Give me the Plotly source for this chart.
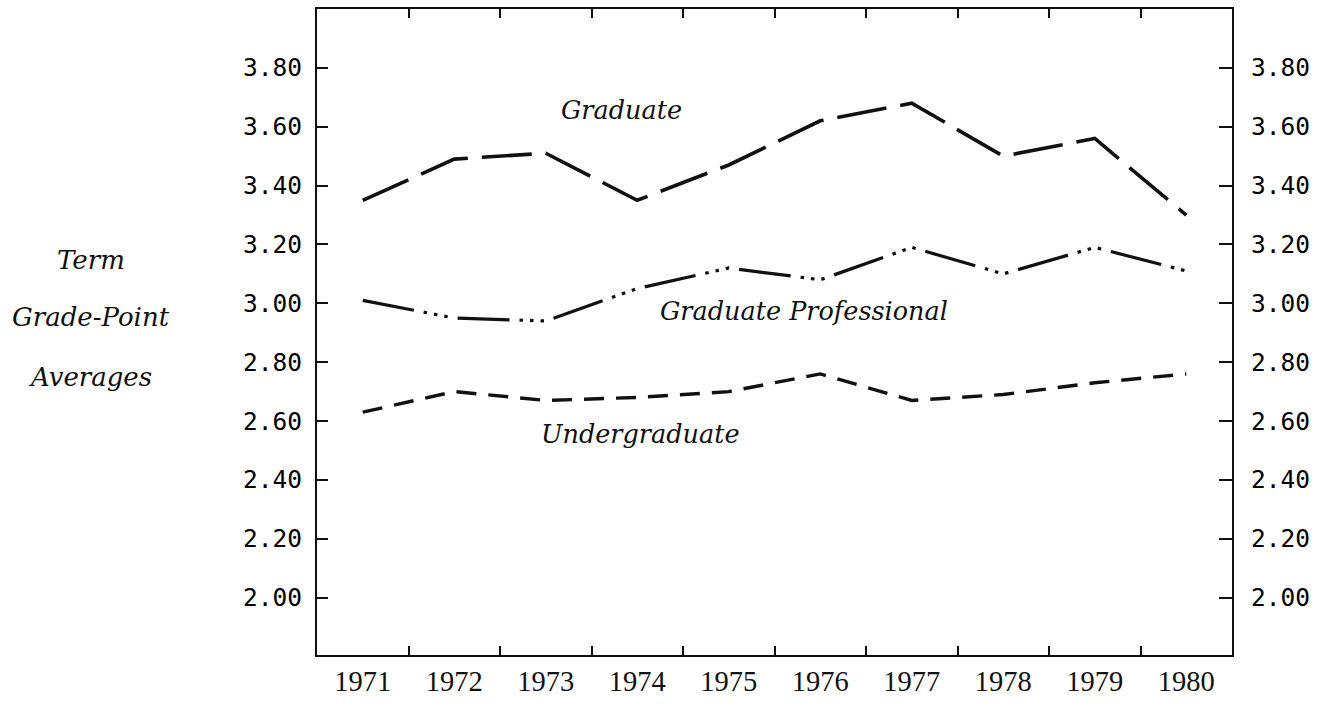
import plotly.graph_objects as go

# Academic years shown along the horizontal axis
years = [1971, 1972, 1973, 1974, 1975, 1976, 1977, 1978, 1979, 1980]

# Term grade-point averages by student level
graduate = [3.35, 3.49, 3.51, 3.35, 3.47, 3.62, 3.68, 3.50, 3.56, 3.30]
graduate_professional = [3.01, 2.95, 2.94, 3.05, 3.12, 3.08, 3.19, 3.10, 3.19, 3.11]
undergraduate = [2.63, 2.70, 2.67, 2.68, 2.70, 2.76, 2.67, 2.69, 2.73, 2.76]

# Axis ticks
gpa_ticks = [2.00, 2.20, 2.40, 2.60, 2.80, 3.00, 3.20, 3.40, 3.60, 3.80]
gpa_tick_text = ["%.2f" % v for v in gpa_ticks]
year_dividers = [y + 0.5 for y in years[:-1]]

# Series name labels placed inside the plot (year position, GPA position)
series_labels = [
    ("Graduate", 1973.83, 3.656),
    ("Graduate Professional", 1975.82, 2.975),
    ("Undergraduate", 1974.04, 2.557),
]

X_RANGE = [1970.5, 1980.5]
Y_RANGE = [1.805, 4.0]

INK = "#111111"
MONO = "DejaVu Sans Mono"
SERIF = "Liberation Serif"
ITALIC = "DejaVu Serif"

fig = go.Figure()

fig.add_trace(go.Scatter(
    x=years, y=graduate, mode="lines", name="Graduate",
    line=dict(color=INK, width=3.6, dash="50px,14px"),
    xaxis="x", yaxis="y",
))
fig.add_trace(go.Scatter(
    x=years, y=graduate_professional, mode="lines", name="Graduate Professional",
    line=dict(color=INK, width=3.2,
              dash="52px,10px,3.5px,7px,3.5px,7px,3.5px,10px"),
    xaxis="x", yaxis="y",
))
# Undergraduate series drawn on the mirrored axes so the top and right frames render
fig.add_trace(go.Scatter(
    x=years, y=undergraduate, mode="lines", name="Undergraduate",
    line=dict(color=INK, width=3.4, dash="20px,12px"),
    xaxis="x2", yaxis="y2",
))

for text, xv, yv in series_labels:
    fig.add_annotation(
        x=xv, y=yv, xref="x", yref="y", text=text, showarrow=False,
        font=dict(family=ITALIC, size=25.5, color=INK, style="italic"),
        xanchor="center", yanchor="middle",
    )

# Vertical axis title, stacked on three lines at the left
for text, yp in [("Term", 0.611), ("Grade-Point", 0.523), ("Averages", 0.430)]:
    fig.add_annotation(
        x=-0.247, y=yp, xref="paper", yref="paper", text=text, showarrow=False,
        font=dict(family=ITALIC, size=26, color=INK, style="italic"),
        xanchor="center", yanchor="middle",
    )

fig.update_layout(
    width=1331, height=706,
    margin=dict(l=317, r=99, t=9, b=34),
    paper_bgcolor="white", plot_bgcolor="white",
    showlegend=False,
    xaxis=dict(
        range=X_RANGE, tickmode="array", tickvals=years,
        ticktext=[str(y) for y in years], ticks="",
        tickfont=dict(family=SERIF, size=28.5, color=INK),
        showline=True, linecolor=INK, linewidth=2.2, showgrid=False,
        zeroline=False,
        minor=dict(tickmode="array", tickvals=year_dividers, ticks="inside",
                   ticklen=9, tickwidth=1.5, tickcolor=INK, showgrid=False),
    ),
    xaxis2=dict(
        range=X_RANGE, overlaying="x", side="top", anchor="y2",
        tickmode="array", tickvals=year_dividers, ticks="inside",
        ticklen=9, tickwidth=1.5, tickcolor=INK, showticklabels=False,
        showline=True, linecolor=INK, linewidth=2.2, showgrid=False,
        zeroline=False,
    ),
    yaxis=dict(
        range=Y_RANGE, tickmode="array", tickvals=gpa_ticks,
        ticktext=gpa_tick_text, ticks="inside", ticklen=11, tickwidth=1.5,
        tickcolor=INK, ticklabelstandoff=8,
        tickfont=dict(family=MONO, size=24.5, color="#000000"),
        showline=True, linecolor=INK, linewidth=2.2, showgrid=False,
        zeroline=False,
    ),
    yaxis2=dict(
        range=Y_RANGE, overlaying="y", side="right", anchor="x2",
        tickmode="array", tickvals=gpa_ticks, ticktext=gpa_tick_text,
        ticks="inside", ticklen=13, tickwidth=1.5, tickcolor=INK,
        ticklabelstandoff=12,
        tickfont=dict(family=MONO, size=24.5, color="#000000"),
        showline=True, linecolor=INK, linewidth=2.2, showgrid=False,
        zeroline=False,
    ),
)

fig.write_html("out.html")
